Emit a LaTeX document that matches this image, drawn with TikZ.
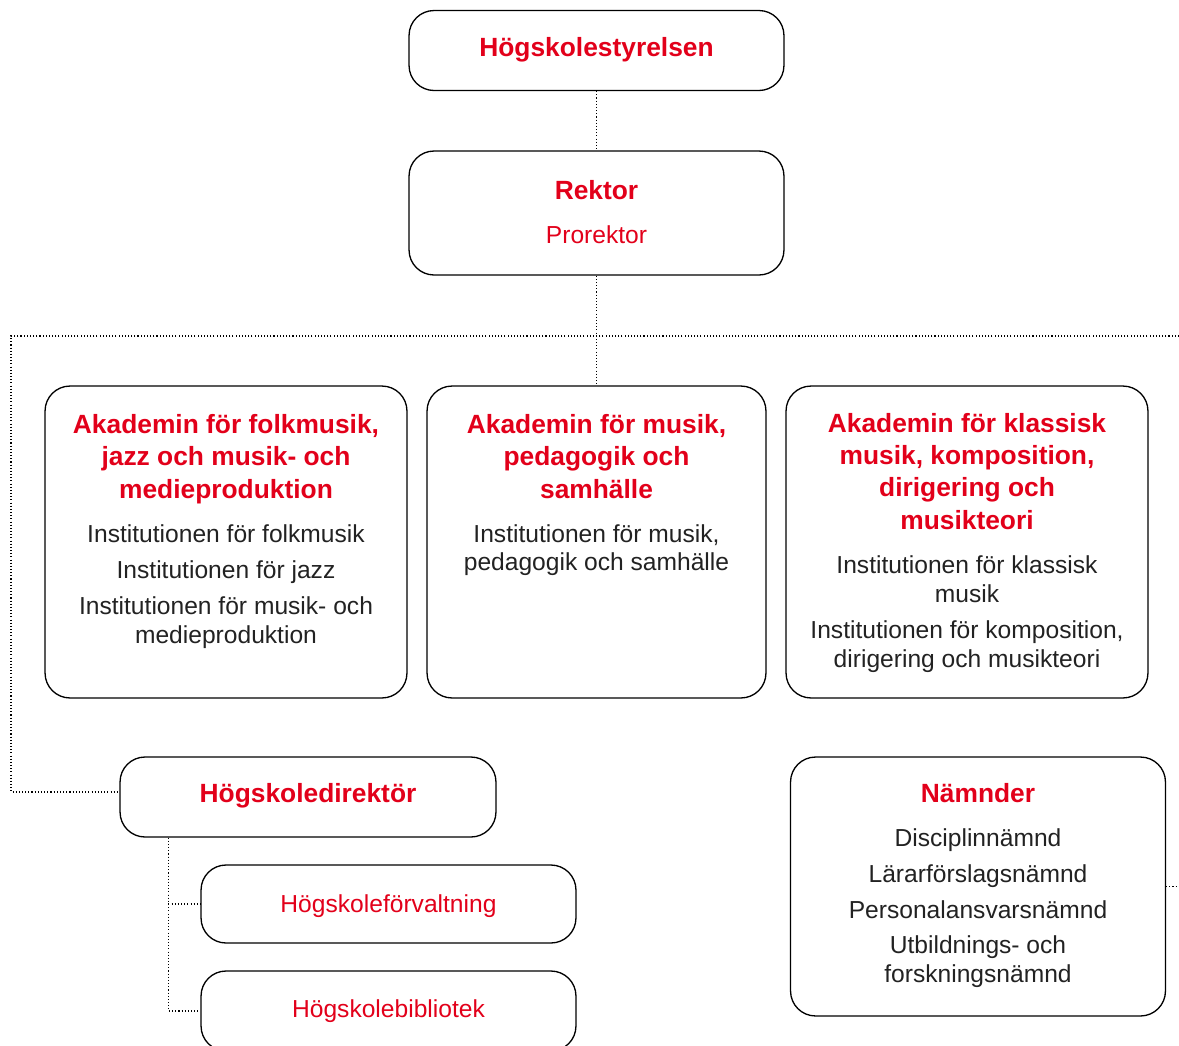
\documentclass[tikz,border=0pt]{standalone}
\usepackage{fontspec}
\setmainfont{Liberation Sans}
\definecolor{kmhred}{HTML}{E2001A}
\definecolor{kmhtext}{HTML}{222222}
\tikzset{
  unit/.style={draw, rounded corners=.5cm, line width=.75pt, inner sep=0pt},
  link/.style={line width=.6pt, dash pattern=on .6pt off 1.2pt},
  head/.style={font=\fontsize{15}{18.4}\selectfont\bfseries, text=kmhred, align=center, anchor=base, inner sep=0pt},
  item/.style={font=\fontsize{14}{16.1}\selectfont, text=kmhtext, align=center, anchor=base, inner sep=0pt},
  sub/.style={item, text=kmhred},
}
\begin{document}
\begin{tikzpicture}[x=.02cm, y=-.02cm]
  \useasboundingbox (0, 0) rectangle (1179, 1045);
  % boxes
  \node[unit, minimum width=7.5cm, minimum height=1.6cm] (styr) at (596.5, 50.5) {};
  \node[unit, minimum width=7.5cm, minimum height=2.48cm] (rektor) at (596.5, 213) {};
  \node[unit, minimum width=7.24cm, minimum height=6.24cm] (folk) at (226, 542) {};
  \node[unit, minimum width=6.78cm, minimum height=6.24cm] (ped) at (596.5, 542) {};
  \node[unit, minimum width=7.24cm, minimum height=6.24cm] (klass) at (967, 542) {};
  \node[unit, minimum width=7.52cm, minimum height=1.6cm] (dir) at (308, 797) {};
  \node[unit, minimum width=7.5cm, minimum height=1.56cm] (forv) at (388.5, 904) {};
  \node[unit, minimum width=7.5cm, minimum height=1.6cm] (bibl) at (388.5, 1011) {};
  \node[unit, minimum width=7.5cm, minimum height=5.18cm] (namnd) at (978, 886.5) {};

  % texts (base = last line)
  \node[head] (styrT) at (596.5, 56) {Högskolestyrelsen};
  \node[head] (rektorT) at (596.5, 199) {Rektor};
  \node[sub] (prorektorT) at (596.5, 243) {Prorektor};

  \node[head] (folkT) at (226, 498) {Akademin för folkmusik,\\jazz och musik- och\\medieproduktion};
  \node[item] (folkA) at (226, 542) {Institutionen för folkmusik};
  \node[item] (folkB) at (226, 578) {Institutionen för jazz};
  \node[item] (folkC) at (226, 643) {Institutionen för musik- och\\medieproduktion};

  \node[head] (pedT) at (596.5, 498) {Akademin för musik,\\pedagogik och\\samhälle};
  \node[item] (pedA) at (596.5, 570.5) {Institutionen för musik,\\pedagogik och samhälle};

  \node[head] (klassT) at (967, 529) {Akademin för klassisk\\musik, komposition,\\dirigering och\\musikteori};
  \node[item] (klassA) at (967, 602) {Institutionen för klassisk\\musik};
  \node[item] (klassB) at (967, 667) {Institutionen för komposition,\\dirigering och musikteori};

  \node[head] (dirT) at (308, 802) {Högskoledirektör};
  \node[sub] (forvT) at (388.5, 912) {Högskoleförvaltning};
  \node[sub] (biblT) at (388.5, 1017) {Högskolebibliotek};

  \node[head] (namndT) at (978, 802) {Nämnder};
  \foreach \name/\y in {Disciplinnämnd/846, Lärarförslagsnämnd/882, Personalansvarsnämnd/918}
    \node[item] at (978, \y) {\name};
  \node[item] (namndD) at (978, 982) {Utbildnings- och\\forskningsnämnd};

  % connectors
  \coordinate (left) at (11, 336);
  \coordinate (right) at (1179, 336);
  \coordinate (edge) at (1179, 886.5);
  \draw[link] (styr) -- (rektor);
  \draw[link] (rektor) -- (ped);
  \draw[link] (right) -- (left) |- ([yshift=.1cm]dir.west);
  \draw[link] (namnd.east) -- (edge);
  \coordinate (dirdown) at ([xshift=.98cm]dir.south west);
  \foreach \n in {forv, bibl}
    \draw[link] (dirdown) |- (\n.west);
\end{tikzpicture}
\end{document}
